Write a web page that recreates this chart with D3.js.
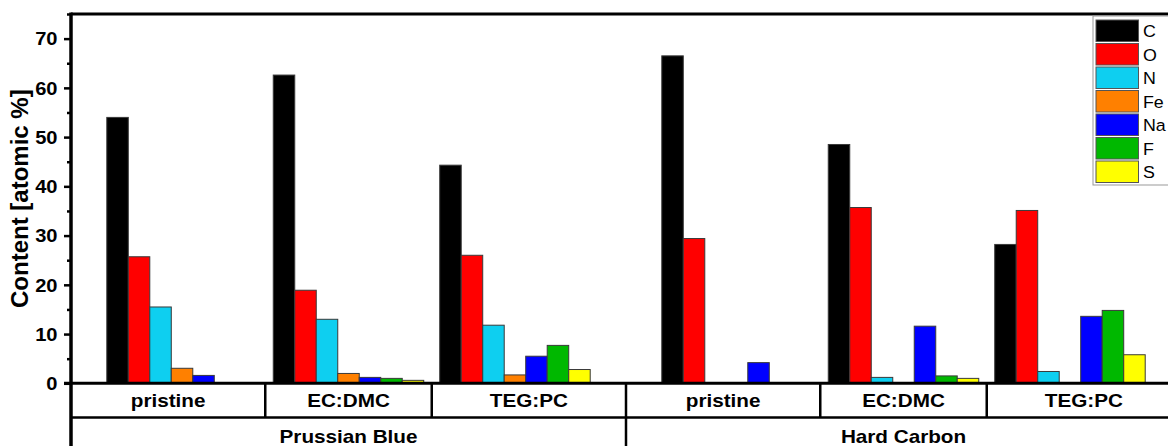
<!DOCTYPE html>
<html>
<head>
<meta charset="utf-8">
<script src="https://cdn.jsdelivr.net/npm/d3@7"></script>
<style>
  body { margin: 0; background: #fff; }
  svg { display: block; font-family: Arial, 'Liberation Sans', sans-serif; }
</style>
</head>
<body>
<div id="chart"></div>
<script>
// element series, one value per sample group (PB pristine, EC:DMC, TEG:PC, HC pristine, EC:DMC, TEG:PC)
const elements = ['C', 'O', 'N', 'Fe', 'Na', 'F', 'S'];
const elementColors = ['#000000', '#ff0000', '#0ecff0', '#ff8000', '#0000ff', '#00b800', '#ffff00'];
const materials = ['Prussian Blue', 'Hard Carbon'];
const solvents = ['pristine', 'EC:DMC', 'TEG:PC'];

const valC  = [54.0, 62.6, 44.3, 66.5, 48.5, 28.2];
const valO  = [25.7, 18.9, 26.0, 29.4, 35.7, 35.1];
const valN  = [15.5, 13.0, 11.8, 0, 1.2, 2.4];
const valFe = [3.05, 2.0, 1.7, 0, 0, 0];
const valNa = [1.6, 1.2, 5.5, 4.2, 11.6, 13.6];
const valF  = [0, 1.0, 7.7, 0, 1.5, 14.8];
const valS  = [0, 0.6, 2.8, 0, 1.0, 5.8];

const yMajor = [0, 10, 20, 30, 40, 50, 60, 70];
const yMinor = [5, 15, 25, 35, 45, 55, 65, 75];

const series = [valC, valO, valN, valFe, valNa, valF, valS];

const width = 1168;
const height = 446;
const plotLeft = 71;
const plotRight = 1181;   // frame runs past the picture edge
const plotTop = 14;
const base = 383.3;
const row1 = 417.5;
const stretch = 1.15;     // the original text is drawn a bit wide

const svg = d3.select('#chart')
  .append('svg')
  .attr('width', width)
  .attr('height', height);

const y = d3.scaleLinear().domain([0, 75]).range([base, plotTop]);

const xMat = d3.scaleBand().domain(materials).range([plotLeft, plotRight]).padding(0);
const xSolv = d3.scaleBand().domain(solvents).range([0, xMat.bandwidth()])
  .paddingInner(0.096).paddingOuter(0.215);
const xEl = d3.scaleBand().domain(elements).range([0, xSolv.bandwidth()]).padding(0);

const groups = [];
materials.forEach((m, mi) => {
  solvents.forEach((s, si) => {
    groups.push({ material: m, solvent: s, index: mi * solvents.length + si,
      x0: xMat(m) + xSolv(s) });
  });
});

// bars
const bars = [];
groups.forEach((g) => {
  elements.forEach((el, ei) => {
    bars.push({ g, el, ei, v: series[ei][g.index] });
  });
});

svg.append('g')
  .selectAll('rect')
  .data(bars.filter((d) => d.v > 0))
  .enter()
  .append('rect')
  .attr('x', (d) => d.g.x0 + xEl(d.el))
  .attr('y', (d) => y(d.v))
  .attr('width', xEl.bandwidth())
  .attr('height', (d) => base - y(d.v))
  .attr('fill', (d) => elementColors[d.ei])
  .attr('stroke', '#3a3a3a')
  .attr('stroke-width', 1);

// y axis ticks
const yAxis = svg.append('g')
  .attr('transform', `translate(${plotLeft},0)`)
  .call(d3.axisLeft(y).tickValues(yMajor).tickSize(7).tickPadding(6));
yAxis.select('.domain').remove();
yAxis.selectAll('line').attr('stroke', '#000').attr('stroke-width', 2.5);
yAxis.selectAll('text')
  .attr('fill', '#000')
  .attr('x', -13.5 / stretch)
  .attr('transform', `scale(${stretch},1)`)
  .style('font-size', '17.5px')
  .style('font-weight', 'bold')
  .attr('dy', '0.36em');

const yMinorAxis = svg.append('g')
  .attr('transform', `translate(${plotLeft},0)`)
  .call(d3.axisLeft(y).tickValues(yMinor).tickSize(4).tickFormat(''));
yMinorAxis.select('.domain').remove();
yMinorAxis.selectAll('line').attr('stroke', '#000').attr('stroke-width', 2.5);

svg.append('text')
  .attr('transform', `translate(28,${(plotTop + base) / 2}) rotate(-90)`)
  .attr('text-anchor', 'middle')
  .style('font-size', '24px')
  .style('font-weight', 'bold')
  .text('Content [atomic %]');

// frame
const frame = svg.append('g').attr('stroke', '#000').attr('fill', 'none');
frame.append('line').attr('x1', plotLeft).attr('x2', plotLeft).attr('y1', plotTop - 1.5).attr('y2', height)
  .attr('stroke-width', 3.5);
frame.append('line').attr('x1', plotLeft).attr('x2', plotRight).attr('y1', plotTop).attr('y2', plotTop)
  .attr('stroke-width', 3);
frame.append('line').attr('x1', plotLeft - 7).attr('x2', plotRight).attr('y1', base).attr('y2', base)
  .attr('stroke-width', 3);
frame.append('line').attr('x1', plotLeft).attr('x2', plotRight).attr('y1', row1).attr('y2', row1)
  .attr('stroke-width', 2.5);

// category table under the axis: cell edges sit halfway between group centres
const centers = groups.map((g) => g.x0 + xSolv.bandwidth() / 2);
const dividers = centers.slice(1).map((c, i) => (c + centers[i]) / 2);
const cellEdges = [plotLeft].concat(dividers, [plotRight]);

frame.selectAll('.div1')
  .data(cellEdges.slice(1))
  .enter()
  .append('line')
  .attr('x1', (d) => d).attr('x2', (d) => d)
  .attr('y1', base).attr('y2', row1)
  .attr('stroke-width', 2.5);

frame.selectAll('.div2')
  .data(materials.slice(1).map((m) => xMat(m)).concat([plotRight]))
  .enter()
  .append('line')
  .attr('x1', (d) => d).attr('x2', (d) => d)
  .attr('y1', row1).attr('y2', height)
  .attr('stroke-width', 2.5);

svg.append('g')
  .selectAll('text')
  .data(groups)
  .enter()
  .append('text')
  .attr('transform', (d, i) => `translate(${(cellEdges[i] + cellEdges[i + 1]) / 2},407) scale(${stretch},1)`)
  .attr('text-anchor', 'middle')
  .style('font-size', '18px')
  .style('font-weight', 'bold')
  .text((d) => d.solvent);

svg.append('g')
  .selectAll('text')
  .data(materials)
  .enter()
  .append('text')
  .attr('transform', (d) => `translate(${xMat(d) + xMat.bandwidth() / 2},443) scale(${stretch},1)`)
  .attr('text-anchor', 'middle')
  .style('font-size', '18px')
  .style('font-weight', 'bold')
  .text((d) => d);

// legend
const legend = svg.append('g').attr('transform', 'translate(1093,16)');
legend.append('rect')
  .attr('x', 0).attr('y', 0).attr('width', 100).attr('height', 169)
  .attr('fill', '#fff').attr('stroke', '#999').attr('stroke-width', 1);
const item = legend.selectAll('.item')
  .data(elements)
  .enter()
  .append('g')
  .attr('transform', (d, i) => `translate(3,${4 + i * 23.5})`);
item.append('rect')
  .attr('width', 42.5).attr('height', 21.5)
  .attr('fill', (d, i) => elementColors[i])
  .attr('stroke', '#555').attr('stroke-width', 1);
item.append('text')
  .attr('transform', 'translate(47,17) scale(1.08,1)')
  .style('font-size', '16.5px')
  .text((d) => d);
</script>
</body>
</html>
